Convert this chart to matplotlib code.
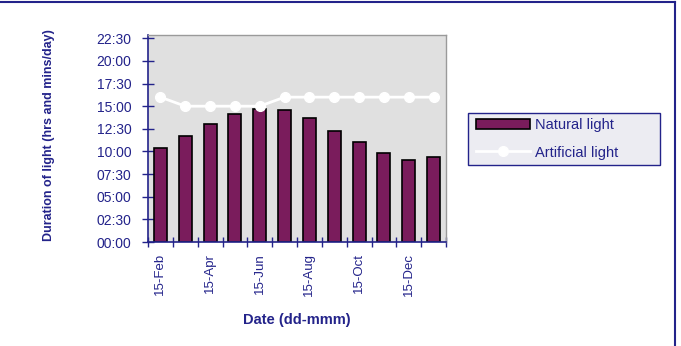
import matplotlib
matplotlib.use("Agg")
import matplotlib.pyplot as plt
from matplotlib.lines import Line2D
from matplotlib.patches import Rectangle
import numpy as np

months = ["15-Feb", "15-Mar", "15-Apr", "15-May", "15-Jun", "15-Jul",
          "15-Aug", "15-Sep", "15-Oct", "15-Nov", "15-Dec", "15-Jan"]
natural_hours = [10.37, 11.72, 13.07, 14.15, 14.65, 14.55, 13.67, 12.3, 11.02, 9.8, 9.07, 9.37]
artificial_hours = [16, 15, 15, 15, 15, 16, 16, 16, 16, 16, 16, 16]
ytick_values = [0, 2.5, 5, 7.5, 10, 12.5, 15, 17.5, 20, 22.5]

plt.rcParams["font.family"] = ["Liberation Sans", "DejaVu Sans"]

navy = "#23238a"
bar_color = "#7a1c5c"
W, H = 681, 346

fig = plt.figure(figsize=(6.81, 3.46), dpi=100)
ax = fig.add_axes([148/W, 1-242/H, 298/W, (242-34.5)/H])
ax.set_facecolor("#e0e0e0")

x = np.arange(len(months))
ax.bar(x, natural_hours, width=0.52, color=bar_color, edgecolor="black", linewidth=1.2, zorder=2)
ax.plot(x, artificial_hours, color="white", linewidth=2, marker="o", markersize=7,
        markerfacecolor="white", markeredgecolor="white", zorder=3)

ax.set_xlim(-0.5, len(months)-0.5)
ax.set_ylim(0, 22.5 + 3.8/9.07)

def fmt(v):
    h = int(v)
    m = int(round((v - h) * 60))
    return f"{h:02d}:{m:02d}"

ax.set_yticks(ytick_values)
ax.set_yticklabels([fmt(v) for v in ytick_values], color=navy, fontsize=10)
ax.tick_params(axis="y", direction="inout", length=8, width=1, color=navy, pad=8)

ax.set_xticks(np.arange(-0.5, len(months), 1.0))
ax.set_xticklabels([])
ax.tick_params(axis="x", direction="inout", length=7, width=1, color=navy)
ax.set_xticks(x[::2], minor=True)
ax.set_xticklabels(months[::2], minor=True, rotation=90, color=navy, fontsize=9.5)
ax.tick_params(axis="x", which="minor", length=0, pad=8)

for side in ["top", "right"]:
    ax.spines[side].set_color("#9a9a9a")
    ax.spines[side].set_linewidth(1)
for side in ["left", "bottom"]:
    ax.spines[side].set_color(navy)
    ax.spines[side].set_linewidth(1.2)

ax.set_ylabel("Duration of light (hrs and mins/day)", color=navy, fontsize=9, fontweight="bold")
ax.yaxis.set_label_coords(-0.312, 0.513)
ax.set_xlabel("Date (dd-mmm)", color=navy, fontsize=10.5, fontweight="bold")
ax.xaxis.set_label_coords(0.5, -(320-242)/207.5)
ax.xaxis.label.set_verticalalignment("center")

# Legend box drawn manually to match reference frame
lx0, lx1, ly0, ly1 = 468, 660, 113, 165
fig.add_artist(Rectangle((lx0/W, 1-ly1/H), (lx1-lx0)/W, (ly1-ly0)/H, transform=fig.transFigure,
                         facecolor="#ececf2", edgecolor=navy, linewidth=1))
fig.add_artist(Rectangle((476/W, 1-129/H), (530-476)/W, 10/H, transform=fig.transFigure,
                         facecolor=bar_color, edgecolor="black", linewidth=1.2))
fig.add_artist(Line2D([476/W, 530/W], [1-151/H, 1-151/H], transform=fig.transFigure,
                      color="white", linewidth=2))
fig.add_artist(Line2D([503/W], [1-151/H], transform=fig.transFigure, color="white",
                      marker="o", markersize=7, markerfacecolor="white", markeredgecolor="white"))
fig.text(535/W, 1-124/H, "Natural light", color=navy, fontsize=10.5, va="center_baseline", ha="left")
fig.text(535/W, 1-151/H, "Artificial light", color=navy, fontsize=10.5, va="center_baseline", ha="left")

# Figure border (top and right visible)
fig.add_artist(Line2D([0, 675/W], [1-1.5/H, 1-1.5/H], transform=fig.transFigure, color=navy, linewidth=1.5))
fig.add_artist(Line2D([675/W, 675/W], [0, 1-1.5/H], transform=fig.transFigure, color=navy, linewidth=1.5))

fig.savefig("out.png", dpi=100)
